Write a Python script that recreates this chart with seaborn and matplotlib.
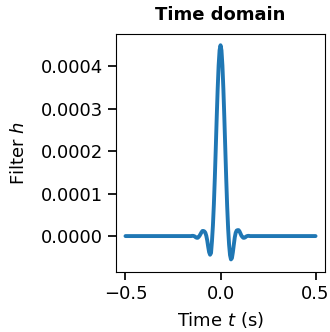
import numpy as np
import pandas as pd
import matplotlib
matplotlib.use('Agg')
import matplotlib.pyplot as plt
import seaborn as sns

# impulse response (time in s, h in units of 1e-6)
t_left = [-0.5, -0.2, -0.16, -0.155, -0.15, -0.145, -0.14, -0.135, -0.13, -0.125, -0.12,
          -0.115, -0.11, -0.105, -0.1, -0.095, -0.09, -0.085, -0.08, -0.075, -0.07,
          -0.065, -0.06, -0.055, -0.05, -0.045, -0.04, -0.035, -0.03, -0.025, -0.02,
          -0.015, -0.01, -0.005]
h_left = [0, 0, 0, 0, 0.5, 0.5, 0, -1, -3, -4, -4,
          -2, 1, 5, 9, 12, 12, 11, 8, 1, -10,
          -25, -38, -44, -40, -12, 25, 75, 137, 207, 280,
          347, 402, 438]
t_mid = [0.0]
h_mid = [450]
t_right = [0.005, 0.01, 0.015, 0.02, 0.025, 0.03, 0.035, 0.04, 0.045, 0.05,
           0.055, 0.06, 0.065, 0.07, 0.075, 0.08, 0.085, 0.09, 0.095, 0.1,
           0.105, 0.11, 0.115, 0.12, 0.125, 0.13, 0.135, 0.14, 0.145, 0.15,
           0.155, 0.16, 0.2, 0.5]
h_right = [438, 402, 347, 280, 207, 135, 70, 18, -20, -45,
           -55, -52, -38, -20, -3, 8, 13, 14, 14, 11,
           6, 1, -2, -4, -4, -3, -1, 0, 0.5, 0.5,
           0, 0, 0, 0]

df = pd.DataFrame({
    'time': t_left + t_mid + t_right,
    'h': np.array(h_left + h_mid + h_right) * 1e-6,
})

sns.set_theme(style='ticks')
plt.rcParams['font.family'] = ['DejaVu Sans']
plt.rcParams['text.color'] = 'black'
plt.rcParams['axes.labelcolor'] = 'black'

fig = plt.figure(figsize=(3.3, 3.32), dpi=100)
ax = fig.add_axes([0.3515, 0.181, 0.6335, 0.7166])
sns.lineplot(data=df, x='time', y='h', ax=ax, color='#1f77b4', linewidth=2.8, sort=False)
ax.set_title('Time domain', fontsize=13, fontweight='bold', color='black', pad=10)
ax.set_xlabel('Time $t$ (s)', fontsize=13, labelpad=5)
ax.set_ylabel('Filter $h$', fontsize=13, labelpad=9)
ax.set_xticks([-0.5, 0.0, 0.5])
ax.set_yticks([0, 0.0001, 0.0002, 0.0003, 0.0004])
ax.set_yticklabels(['0.0000', '0.0001', '0.0002', '0.0003', '0.0004'])
ax.tick_params(labelsize=13, colors='black')
for s in ax.spines.values():
    s.set_color('black')
    s.set_linewidth(0.8)
ax.set_xlim(-0.55, 0.55)
ax.set_ylim(-0.0000845, 0.0004765)
fig.savefig('out.png', dpi=100)
